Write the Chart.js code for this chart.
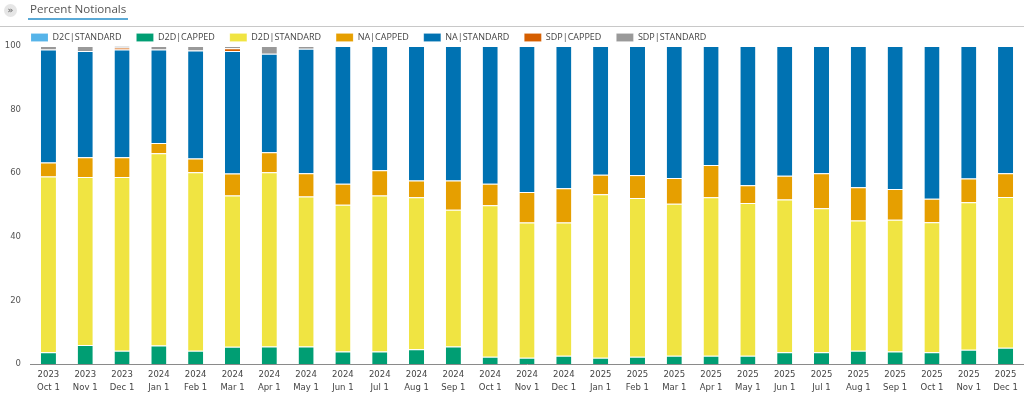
<!DOCTYPE html>
<html><head><meta charset="utf-8">
<script src="https://cdn.jsdelivr.net/npm/chart.js@4/dist/chart.umd.min.js"></script>
<style>
html,body{margin:0;padding:0;background:#fff;width:1024px;height:396px;overflow:hidden;}
#hdr{position:absolute;left:0;top:0;width:1024px;height:26px;border-bottom:1px solid #c8c8c8;z-index:2;}
#icon{position:absolute;left:4px;top:4px;width:13px;height:13px;border-radius:50%;background:#e6e6e6;color:#777;font:bold 9px "DejaVu Sans";line-height:12px;text-align:center;}
#ttl{position:absolute;left:28px;top:0px;padding:0 2px;height:18px;border-bottom:2px solid #5aa9d6;font:11.6px "Open Sans";color:#555;line-height:18px;}
#wrap{position:absolute;left:0;top:0;width:1024px;height:396px;z-index:1;}
</style></head>
<body>
<div id="hdr"><div id="icon">»</div><div id="ttl">Percent Notionals</div></div>
<div id="wrap"><canvas id="c" width="1024" height="396"></canvas></div>
<script>
const years = ['2023','2023','2023','2024','2024','2024','2024','2024','2024','2024','2024','2024','2024','2024','2024','2025','2025','2025','2025','2025','2025','2025','2025','2025','2025','2025','2025'];
const months = ['Oct 1','Nov 1','Dec 1','Jan 1','Feb 1','Mar 1','Apr 1','May 1','Jun 1','Jul 1','Aug 1','Sep 1','Oct 1','Nov 1','Dec 1','Jan 1','Feb 1','Mar 1','Apr 1','May 1','Jun 1','Jul 1','Aug 1','Sep 1','Oct 1','Nov 1','Dec 1'];
const d2cStandard = [0,0,0,0,0,0,0,0,0,0,0,0,0,0,0,0,0,0,0,0,0,0,0,0,0,0,0];
const d2dCapped = [3.7,6.0,4.2,5.8,4.2,5.4,5.5,5.5,3.9,3.9,4.6,5.5,2.3,2.0,2.6,2.0,2.3,2.6,2.6,2.6,3.7,3.7,4.2,3.9,3.7,4.5,5.1];
const d2dStandard = [55.3,52.8,54.6,60.5,56.1,47.6,54.8,47.2,46.2,49.1,47.8,43.0,47.6,42.5,41.9,51.4,49.9,47.8,49.8,48.0,48.0,45.3,40.9,41.5,40.9,46.4,47.4];
const naCapped = [4.4,6.2,6.2,3.2,4.3,6.9,6.3,7.3,6.6,7.9,5.3,9.2,6.8,9.6,10.8,6.1,7.2,8.1,10.2,5.6,7.5,11.0,10.5,9.6,7.4,7.4,7.5];
const naStandard = [35.5,33.4,33.9,29.4,34.0,38.5,31.0,39.1,43.3,39.1,42.3,42.3,43.3,45.9,44.7,40.5,40.6,41.5,37.4,43.8,40.8,40.0,44.4,45.0,48.0,41.7,40.0];
const sdpCapped = [0,0,0.6,0,0,0.9,0,0,0,0,0,0,0,0,0,0,0,0,0,0,0,0,0,0,0,0,0];
const sdpStandard = [1.1,1.6,0.5,1.1,1.4,0.7,2.4,0.9,0,0,0,0,0,0,0,0,0,0,0,0,0,0,0,0,0,0,0];
const yTicks = [0,20,40,60,80,100];

const labels = years.map((y,i)=>[y, months[i]]);
const series = [
  ['D2C|STANDARD', d2cStandard, '#56B4E9'],
  ['D2D|CAPPED', d2dCapped, '#009E73'],
  ['D2D|STANDARD', d2dStandard, '#F0E442'],
  ['NA|CAPPED', naCapped, '#E69F00'],
  ['NA|STANDARD', naStandard, '#0072B2'],
  ['SDP|CAPPED', sdpCapped, '#D55E00'],
  ['SDP|STANDARD', sdpStandard, '#999999']
];
const shiftLegend = {
  id: 'shiftLegend',
  afterLayout(chart) { const l = chart.legend; if (l) { l.left += 16; l.right += 16; } }
};
new Chart(document.getElementById('c'), {
  type: 'bar',
  data: {
    labels: labels,
    datasets: series.map(s => ({
      label: s[0], data: s[1], backgroundColor: s[2],
      borderColor: 'rgba(255,255,255,0.55)', borderWidth: {top:1, left:0, right:0, bottom:0}, borderSkipped: false,
      barPercentage: 0.41, categoryPercentage: 1
    }))
  },
  plugins: [shiftLegend],
  options: {
    responsive: false, animation: false,
    layout: { padding: { top: 18, left: 0, right: 0, bottom: 0 } },
    plugins: {
      tooltip: { enabled: false },
      legend: {
        position: 'top', align: 'start', maxHeight: 28,
        labels: { boxWidth: 17, boxHeight: 8, padding: 15, color: '#444', font: { family: 'Open Sans', size: 9 } }
      }
    },
    scales: {
      x: {
        stacked: true,
        afterFit: s => { s.height = 32; },
        grid: { display: false, drawTicks: false },
        border: { display: true, color: '#8a8a8a', width: 1 },
        ticks: { autoSkip: false, maxRotation: 0, minRotation: 0, padding: 5, color: '#444', font: { family: 'DejaVu Sans', size: 8.5, lineHeight: 1.45 } }
      },
      y: {
        stacked: true, min: 0, max: 100,
        afterFit: s => { s.width = 30; },
        afterBuildTicks: s => { s.ticks = yTicks.map(v => ({ value: v })); },
        grid: { display: false, drawTicks: false },
        border: { display: false },
        ticks: { padding: 9, color: '#555', font: { family: 'DejaVu Sans', size: 8.5 } }
      }
    }
  }
});
</script>
</body></html>
